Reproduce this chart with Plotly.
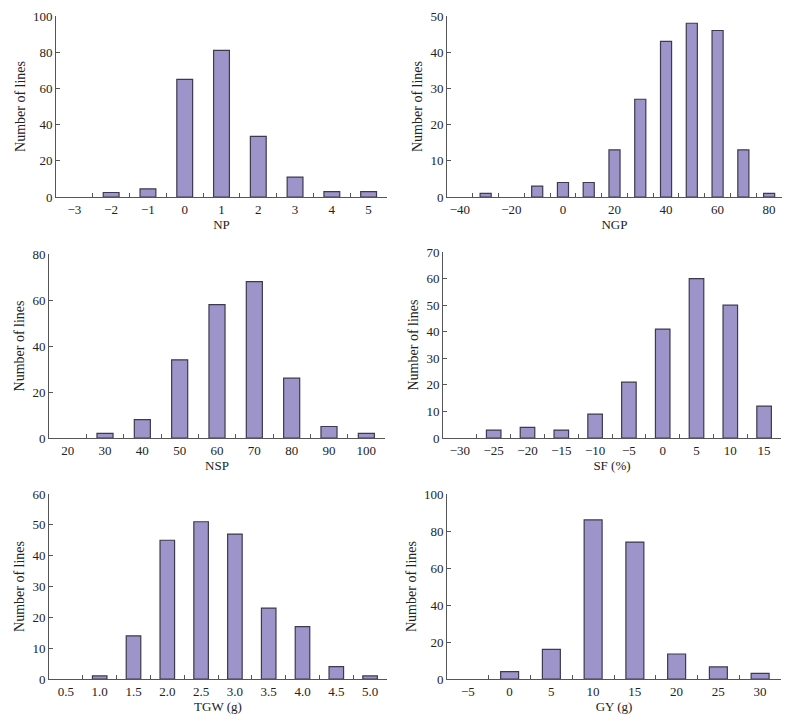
import plotly.graph_objects as go

# ---- data ----
np_bins = ["−3", "−2", "−1", "0", "1", "2", "3", "4", "5"]
np_counts = [0, 2.5, 4.5, 65, 81, 33.5, 11, 3, 3]

ngp_bins = ["−40", "−30", "−20", "−10", "0", "10", "20", "30", "40", "50", "60", "70", "80"]
ngp_counts = [0, 1, 0, 3, 4, 4, 13, 27, 43, 48, 46, 13, 1]
ngp_labels = ["−40", "", "−20", "", "0", "", "20", "", "40", "", "60", "", "80"]

nsp_bins = ["20", "30", "40", "50", "60", "70", "80", "90", "100"]
nsp_counts = [0, 2, 8, 34, 58, 68, 26, 5, 2]

sf_bins = ["−30", "−25", "−20", "−15", "−10", "−5", "0", "5", "10", "15"]
sf_counts = [0, 3, 4, 3, 9, 21, 41, 60, 50, 12]

tgw_bins = ["0.5", "1.0", "1.5", "2.0", "2.5", "3.0", "3.5", "4.0", "4.5", "5.0"]
tgw_counts = [0, 1, 14, 45, 51, 47, 23, 17, 4, 1]

gy_bins = ["−5", "0", "5", "10", "15", "20", "25", "30"]
gy_counts = [0, 4, 16, 86, 74, 13.5, 6.5, 3]

# page has an 8px body margin: lay out in window pixels and convert
OFF = 8
W, H = 790 - 2 * OFF, 725 - 2 * OFF
FILL = "#9d95c9"
EDGE = "#3c3a4e"
AXC = "#555555"
FONT = "Liberation Serif"
TXT = "#222222"

panels = [
    # bins, counts, ticktext, xtitle, ymax, dtick, px(x0,x1), py(top,bottom)
    (np_bins, np_counts, np_bins, "NP", 100, 20, (56, 387), (16, 197)),
    (ngp_bins, ngp_counts, ngp_labels, "NGP", 50, 10, (447, 782), (16, 197)),
    (nsp_bins, nsp_counts, nsp_bins, "NSP", 80, 20, (49, 385), (254, 438)),
    (sf_bins, sf_counts, sf_bins, "SF (%)", 70, 10, (443, 781), (252, 438)),
    (tgw_bins, tgw_counts, tgw_bins, "TGW (g)", 60, 10, (49, 387), (494, 679)),
    (gy_bins, gy_counts, gy_bins, "GY (g)", 100, 20, (447, 781), (494, 679)),
]

fig = go.Figure()
layout = {}
for i, (bins, counts, ttext, xt, ymax, dt, (x0, x1), (yt, yb)) in enumerate(panels, start=1):
    xa = "x" if i == 1 else f"x{i}"
    ya = "y" if i == 1 else f"y{i}"
    fig.add_trace(go.Bar(
        x=bins, y=counts, xaxis=xa, yaxis=ya,
        marker=dict(color=FILL,
                    line=dict(color=EDGE, width=[0 if v == 0 else 1.2 for v in counts])),
        showlegend=False, hoverinfo="x+y",
    ))
    xkey = "xaxis" if i == 1 else f"xaxis{i}"
    ykey = "yaxis" if i == 1 else f"yaxis{i}"
    layout[xkey] = dict(
        domain=[(x0 - OFF) / W, (x1 - OFF) / W], anchor=ya, type="category",
        categoryorder="array", categoryarray=bins,
        tickmode="array", tickvals=bins, ticktext=ttext, tickangle=0,
        tickson="boundaries", ticks="inside", ticklen=4, tickcolor=AXC,
        showline=True, linecolor=AXC, linewidth=1, showgrid=False,
        zeroline=False, automargin=False, ticklabeloverflow="allow",
        tickfont=dict(family=FONT, size=13, color=TXT),
        title=dict(text=xt, font=dict(family=FONT, size=13, color=TXT), standoff=4),
    )
    layout[ykey] = dict(
        domain=[1 - (yb - OFF) / H, 1 - (yt - OFF) / H], anchor=xa,
        range=[0, ymax], dtick=dt, tick0=0,
        ticks="inside", ticklen=4, tickcolor=AXC,
        showline=True, linecolor=AXC, linewidth=1, showgrid=False,
        zeroline=False, automargin=False, ticklabeloverflow="allow",
        tickfont=dict(family=FONT, size=13, color=TXT),
        title=dict(text="Number of lines", font=dict(family=FONT, size=14, color=TXT), standoff=4),
    )

fig.update_layout(
    width=W, height=H,
    margin=dict(l=0, r=0, t=0, b=0),
    paper_bgcolor="white", plot_bgcolor="white",
    bargap=0.57,
    font=dict(family=FONT, size=13, color=TXT),
    **layout,
)

fig.write_html("out.html")
